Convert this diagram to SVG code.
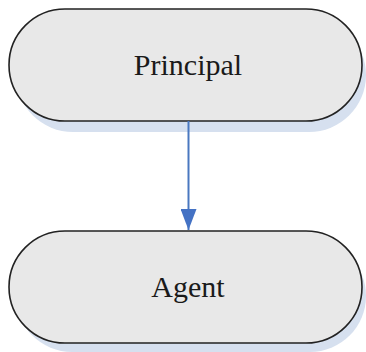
<svg xmlns="http://www.w3.org/2000/svg" width="366" height="352" viewBox="0 0 366 352">
<style>
.shadow{fill:#d6e0ef;}
.node{fill:#e8e8e8;stroke:#222;stroke-width:1.6;}
.label{font-family:"Liberation Serif","DejaVu Serif",serif;font-size:30px;fill:#1a1a1a;text-anchor:middle;}
.conn{stroke:#4a78c0;stroke-width:2;fill:none;}
</style>
<defs>
<marker id="arr" markerUnits="userSpaceOnUse" markerWidth="22" markerHeight="16" refX="21" refY="8" orient="auto">
<path d="M0,0 L21,8 L0,16 Z" fill="#4472c4"/>
</marker>
</defs>
<rect width="366" height="352" fill="#fff"/>
<g id="principal">
<rect class="shadow" x="16" y="18" width="350" height="114" rx="57"/>
<rect class="node" x="9" y="9" width="353" height="112" rx="56"/>
<text class="label" x="188" y="75">Principal</text>
</g>
<g id="agent">
<rect class="shadow" x="16" y="240" width="350" height="112" rx="56"/>
<rect class="node" x="9" y="231" width="353" height="112" rx="56"/>
<text class="label" x="188" y="297">Agent</text>
</g>
<g id="connectors">
<line class="conn" x1="188.5" y1="121" x2="188.5" y2="230" marker-end="url(#arr)"/>
</g>
</svg>
